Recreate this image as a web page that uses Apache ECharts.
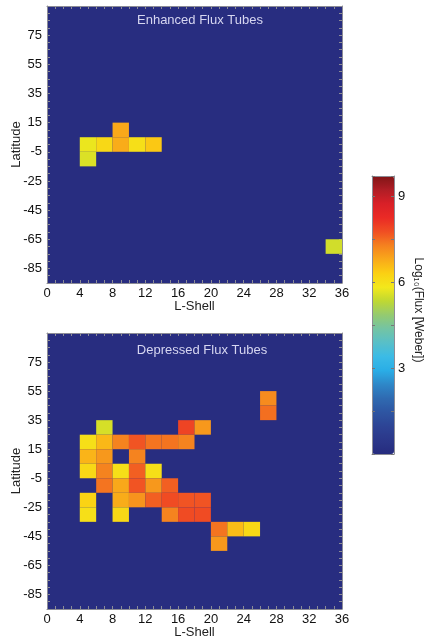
<!DOCTYPE html>
<html>
<head>
<meta charset="utf-8">
<script src="https://cdn.jsdelivr.net/npm/echarts@6/dist/echarts.min.js"></script>
<style>
  html, body { margin: 0; padding: 0; background: #fff; }
  #chart { width: 426px; height: 641px; }
</style>
</head>
<body>
<div id="chart"></div>
<script>
// cells: [L-shell centre, latitude centre, log10 flux]
var enhancedCells = [
  [5, 0, 5.75], [7, 0, 6.15], [9, 0, 6.75], [11, 0, 6.0], [13, 0, 6.4],
  [9, 10, 6.8],
  [5, -10, 5.6],
  [35, -70, 5.5]
];
var depressedCells = [
  [27, 50, 7.15],
  [27, 40, 7.45],
  [7, 30, 5.55], [17, 30, 7.9], [19, 30, 7.0],
  [5, 20, 6.0], [7, 20, 6.6], [9, 20, 7.25], [11, 20, 7.7], [13, 20, 7.4], [15, 20, 7.4], [17, 20, 7.25],
  [5, 10, 6.65], [7, 10, 7.0], [11, 10, 7.25],
  [5, 0, 6.15], [7, 0, 7.25], [9, 0, 6.0], [11, 0, 7.6], [13, 0, 6.0],
  [7, -10, 7.4], [9, -10, 6.8], [11, -10, 7.7], [13, -10, 7.0], [15, -10, 7.6],
  [5, -20, 6.25], [9, -20, 6.75], [11, -20, 7.05], [13, -20, 7.6], [15, -20, 7.8], [17, -20, 7.7], [19, -20, 7.7],
  [5, -30, 6.0], [9, -30, 6.15], [15, -30, 7.25], [17, -30, 7.8], [19, -30, 7.8],
  [21, -40, 7.4], [23, -40, 6.55], [25, -40, 6.15],
  [21, -50, 7.0]
];
var panelTitles = ['Enhanced Flux Tubes', 'Depressed Flux Tubes'];
var colorbarTicks = [3, 6, 9];
var jetColors = [
  '#262c7e', '#2b378a', '#2d4495', '#2e55a2', '#2f6ab1', '#2e87c8', '#2aade6',
  '#3bbbe6', '#58bfc8', '#73c4a4', '#94ca70', '#bfd833', '#f3e81b', '#fbd013',
  '#f9a91a', '#f5811f', '#f04e23', '#ea2a25', '#d92028', '#b01d25', '#7f1416'
];

var CELL_W = 2, CELL_H = 10;
var FONT = "'Liberation Sans', Arial, Helvetica, sans-serif";
var EDGE = '#8c8c96';
var NAVY = '#282d80';

var myChart = echarts.init(document.getElementById('chart'));

function renderCell(params, api) {
  var L = api.value(0), lat = api.value(1);
  var p0 = api.coord([L - CELL_W / 2, lat + CELL_H / 2]);
  var p1 = api.coord([L + CELL_W / 2, lat - CELL_H / 2]);
  return {
    type: 'rect',
    shape: { x: p0[0], y: p0[1], width: p1[0] - p0[0], height: p1[1] - p0[1] },
    style: { fill: api.visual('color') }
  };
}

function xAxes(gridIndex) {
  return [{
    type: 'value', gridIndex: gridIndex, min: 0, max: 36, interval: 4,
    name: 'L-Shell', nameLocation: 'middle', nameGap: 17, nameMoveOverlap: false,
    nameTextStyle: { color: '#222', fontSize: 13, fontFamily: FONT, verticalAlign: 'top' },
    axisLine: { show: true, onZero: false, lineStyle: { color: EDGE } },
    axisTick: { show: true, inside: true, length: 3, lineStyle: { color: EDGE } },
    minorTick: { show: true, splitNumber: 4, length: 3, lineStyle: { color: EDGE } },
    axisLabel: { color: '#111', fontSize: 13, fontFamily: FONT, margin: 4 },
    splitLine: { show: false }
  }, {
    type: 'value', gridIndex: gridIndex, position: 'top', min: 0, max: 36, interval: 4,
    axisLine: { show: true, onZero: false, lineStyle: { color: EDGE } },
    axisTick: { show: true, inside: true, length: 3, lineStyle: { color: EDGE } },
    minorTick: { show: true, splitNumber: 4, length: 3, lineStyle: { color: EDGE } },
    axisLabel: { show: false },
    splitLine: { show: false }
  }];
}

function yAxes(gridIndex) {
  return [{
    type: 'value', gridIndex: gridIndex, min: -95, max: 95, interval: 10,
    name: 'Latitude', nameLocation: 'middle', nameGap: 24, nameRotate: 90, nameMoveOverlap: false,
    nameTextStyle: { color: '#222', fontSize: 13, fontFamily: FONT },
    axisLine: { show: true, onZero: false, lineStyle: { color: EDGE } },
    axisTick: { show: true, inside: true, length: 3, lineStyle: { color: EDGE } },
    minorTick: { show: true, splitNumber: 2, length: 3, lineStyle: { color: EDGE } },
    axisLabel: {
      color: '#111', fontSize: 13, fontFamily: FONT, margin: 5,
      formatter: function (v) {
        return ((v + 85) % 20 === 0 && v < 90) ? String(v) : '';
      }
    },
    splitLine: { show: false }
  }, {
    type: 'value', gridIndex: gridIndex, position: 'right', min: -95, max: 95, interval: 10,
    axisLine: { show: true, onZero: false, lineStyle: { color: EDGE } },
    axisTick: { show: true, inside: true, length: 3, lineStyle: { color: EDGE } },
    minorTick: { show: true, splitNumber: 2, length: 3, lineStyle: { color: EDGE } },
    axisLabel: { show: false },
    splitLine: { show: false }
  }];
}

var cbarY = {
  type: 'value', gridIndex: 2, min: 0, max: 9.7, interval: 1.5, z: 10,
  axisLine: { show: true, onZero: false, lineStyle: { color: EDGE } },
  axisTick: { show: true, inside: true, length: 3, lineStyle: { color: '#777' } },
  axisLabel: { show: false },
  splitLine: { show: false }
};

var option = {
  animation: false,
  backgroundColor: '#fff',
  grid: [
    { left: 47, top: 6, width: 295, height: 277, show: true, backgroundColor: NAVY, borderWidth: 0, outerBoundsMode: 'none', containLabel: false },
    { left: 47, top: 333, width: 295, height: 276, show: true, backgroundColor: NAVY, borderWidth: 0, outerBoundsMode: 'none', containLabel: false },
    { left: 372, top: 176, width: 22, height: 278, show: false, outerBoundsMode: 'none', containLabel: false }
  ],
  xAxis: xAxes(0).concat(xAxes(1)).concat([
    { type: 'value', gridIndex: 2, min: 0, max: 1, show: true, z: 10,
      axisLine: { show: true, onZero: false, lineStyle: { color: EDGE } }, axisTick: { show: false },
      axisLabel: { show: false }, splitLine: { show: false } },
    { type: 'value', gridIndex: 2, min: 0, max: 1, position: 'top', show: true, z: 10,
      axisLine: { show: true, onZero: false, lineStyle: { color: EDGE } }, axisTick: { show: false },
      axisLabel: { show: false }, splitLine: { show: false } }
  ]),
  yAxis: yAxes(0).concat(yAxes(1)).concat([
    echarts.util.extend({}, cbarY),
    echarts.util.extend(echarts.util.extend({}, cbarY), {
      position: 'right',
      axisLabel: {
        show: true, color: '#111', fontSize: 13, fontFamily: FONT, margin: 4,
        formatter: function (v) { return colorbarTicks.indexOf(v) >= 0 ? String(v) : ''; }
      }
    })
  ]),
  visualMap: {
    type: 'continuous', min: 0, max: 9.7, dimension: 2, seriesIndex: [0, 1],
    orient: 'vertical', left: 372, top: 176, itemWidth: 22, itemHeight: 278,
    padding: 0, calculable: false, hoverLink: false, text: null,
    inRange: { color: jetColors }
  },
  graphic: [
    { type: 'text', x: 200, y: 20, style: { text: panelTitles[0], fill: '#d6d6f0', font: '13px ' + FONT, textAlign: 'center', textVerticalAlign: 'middle' } },
    { type: 'text', x: 202, y: 350, style: { text: panelTitles[1], fill: '#d6d6f0', font: '13px ' + FONT, textAlign: 'center', textVerticalAlign: 'middle' } },
    { type: 'text', x: 418, y: 310, rotation: -Math.PI / 2,
      style: { text: 'Log\u2081\u2080(Flux [Weber])', fill: '#222', font: '12px ' + FONT, textAlign: 'center', textVerticalAlign: 'middle' } }
  ],
  series: [
    { type: 'custom', xAxisIndex: 0, yAxisIndex: 0, renderItem: renderCell, encode: { x: 0, y: 1 }, data: enhancedCells, clip: true },
    { type: 'custom', xAxisIndex: 2, yAxisIndex: 2, renderItem: renderCell, encode: { x: 0, y: 1 }, data: depressedCells, clip: true },
    { type: 'custom', xAxisIndex: 4, yAxisIndex: 4, renderItem: function () { return null; }, data: [] }
  ]
};

myChart.setOption(option);
</script>
</body>
</html>
